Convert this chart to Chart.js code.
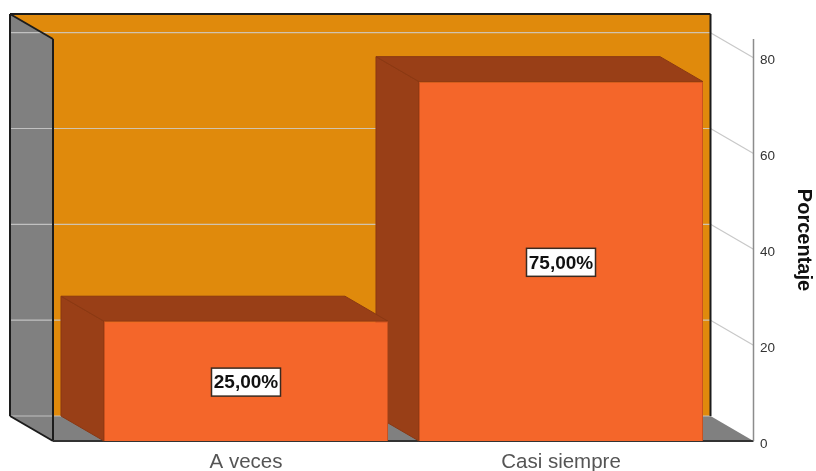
<!DOCTYPE html>
<html>
<head>
<meta charset="utf-8">
<style>
  html, body { margin: 0; padding: 0; background: #fff; }
  canvas { display: block; }
</style>
<script src="https://cdn.jsdelivr.net/npm/chart.js@4"></script>
</head>
<body>
<canvas id="chartCanvas" width="816" height="471"></canvas>
<script>
const categories = ['A veces', 'Casi siempre'];
const percentages = [25, 75];
const yTicks = [0, 20, 40, 60, 80];
const yMax = 83.9;

// depth of the fake 3D box
const depthX = 43;
const depthY = 25;
const wingLeft = 35.5;
const wingRight = 35;

function poly(ctx, pts, fill, stroke, lw) {
  ctx.beginPath();
  pts.forEach((p, i) => i ? ctx.lineTo(p[0], p[1]) : ctx.moveTo(p[0], p[1]));
  ctx.closePath();
  if (fill) { ctx.fillStyle = fill; ctx.fill(); }
  if (stroke) { ctx.strokeStyle = stroke; ctx.lineWidth = lw || 1; ctx.stroke(); }
}

function line(ctx, x1, y1, x2, y2, color, lw) {
  ctx.beginPath();
  ctx.moveTo(x1, y1);
  ctx.lineTo(x2, y2);
  ctx.strokeStyle = color;
  ctx.lineWidth = lw;
  ctx.stroke();
}

const box3d = {
  id: 'box3d',
  beforeDatasetsDraw(chart) {
    const ctx = chart.ctx;
    const area = chart.chartArea;
    const y = chart.scales.y;
    const left = area.left - wingLeft;
    const right = area.right + wingRight;
    const top = area.top;
    const floor = y.getPixelForValue(0);
    const dark = '#1c1c1c';

    ctx.save();
    // back wall, floor, left wall
    poly(ctx, [[left - depthX, top - depthY], [right - depthX, top - depthY], [right - depthX, floor - depthY], [left - depthX, floor - depthY]], '#e08a0c');
    poly(ctx, [[left - depthX, floor - depthY], [right - depthX, floor - depthY], [right, floor], [left, floor]], '#808080');
    poly(ctx, [[left - depthX, top - depthY], [left, top], [left, floor], [left - depthX, floor - depthY]], '#808080');

    // grid lines run over the walls and out to the axis
    yTicks.forEach(t => {
      const py = y.getPixelForValue(t);
      line(ctx, left - depthX, py - depthY, right - depthX, py - depthY, 'rgba(205,205,205,0.85)', 1.2);
      if (t > 0) line(ctx, right - depthX, py - depthY, right, py, '#c8c8c8', 1.2);
    });

    // box edges
    line(ctx, left - depthX, top - depthY, right - depthX, top - depthY, dark, 2);
    line(ctx, right - depthX, top - depthY, right - depthX, floor - depthY, dark, 2);
    line(ctx, left - depthX, top - depthY, left - depthX, floor - depthY, dark, 2);
    line(ctx, left - depthX, top - depthY, left, top, dark, 2);
    line(ctx, left, top, left, floor, dark, 2);
    line(ctx, left - depthX, floor - depthY, left, floor, dark, 2);
    line(ctx, left, floor, right, floor, '#333', 2);
    line(ctx, right, top, right, floor, '#8c8c8c', 1.5);

    // bar sides, back one first so the nearer bar covers it
    const bars = chart.getDatasetMeta(0).data;
    for (let i = bars.length - 1; i >= 0; i--) {
      const b = bars[i];
      const l = b.x - b.width / 2;
      const r = b.x + b.width / 2;
      poly(ctx, [[l, b.base], [l - depthX, b.base - depthY], [l - depthX, b.y - depthY], [l, b.y]], '#993f17', '#8a3813', 1);
      poly(ctx, [[l - depthX, b.y - depthY], [r - depthX, b.y - depthY], [r, b.y], [l, b.y]], '#993f17', '#8a3813', 1);
    }
    ctx.restore();
  },
  afterDatasetsDraw(chart) {
    const ctx = chart.ctx;
    const bars = chart.getDatasetMeta(0).data;
    ctx.save();
    ctx.font = 'bold 19px "Liberation Sans"';
    ctx.textAlign = 'center';
    ctx.textBaseline = 'middle';
    bars.forEach((b, i) => {
      const text = percentages[i].toFixed(2).replace('.', ',') + '%';
      const cy = (b.y + b.base) / 2 + 1;
      ctx.fillStyle = '#fff';
      ctx.fillRect(b.x - 34.5, cy - 14, 69, 28);
      ctx.strokeStyle = '#3a2a20';
      ctx.lineWidth = 1.5;
      ctx.strokeRect(b.x - 34.5, cy - 14, 69, 28);
      ctx.fillStyle = '#111';
      ctx.fillText(text, b.x, cy + 1);
    });
    ctx.restore();
  }
};

new Chart(document.getElementById('chartCanvas'), {
  type: 'bar',
  plugins: [box3d],
  data: {
    labels: categories,
    datasets: [{
      data: percentages,
      backgroundColor: '#f4662a',
      borderColor: '#c9521f',
      borderWidth: 1,
      barPercentage: 0.9016,
      categoryPercentage: 1
    }]
  },
  options: {
    responsive: false,
    maintainAspectRatio: false,
    animation: false,
    layout: { padding: { left: 88.5, top: 39, right: 0, bottom: 0 } },
    plugins: { legend: { display: false }, tooltip: { enabled: false } },
    scales: {
      x: {
        grid: { display: false, tickLength: 0 },
        border: { display: false },
        afterFit(scale) { scale.height = 30; },
        ticks: {
          color: '#555',
          padding: 9,
          maxRotation: 0,
          font: { family: '"Liberation Sans"', size: 20.5 }
        }
      },
      y: {
        position: 'right',
        min: 0,
        max: yMax,
        // tickLength pushes the labels out past the side wall, ticks.padding would eat chart height
        grid: { display: false, tickLength: 41.5 },
        border: { display: false },
        afterFit(scale) { scale.width = 97.5; },
        afterBuildTicks(scale) { scale.ticks = yTicks.map(v => ({ value: v })); },
        ticks: {
          color: '#333',
          padding: 0,
          // empty first line drops the number a little below its grid line
          callback: v => ['', String(v)],
          font: { family: '"Liberation Sans"', size: 13.5, lineHeight: 0.45 }
        },
        title: {
          display: true,
          text: 'Porcentaje',
          color: '#111',
          padding: { top: 0, bottom: 4 },
          font: { family: '"Liberation Sans"', size: 20, weight: 'bold' }
        }
      }
    }
  }
});
</script>
</body>
</html>
